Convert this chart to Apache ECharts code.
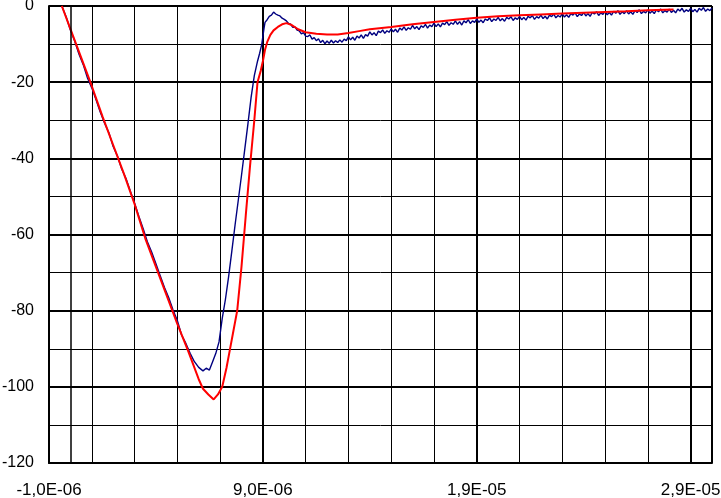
<!DOCTYPE html>
<html>
<head>
<meta charset="utf-8">
<script src="https://cdn.jsdelivr.net/npm/echarts@6/dist/echarts.min.js"></script>
<style>
  html, body { margin: 0; padding: 0; background: #fff; }
  #chart { width: 721px; height: 498px; }
</style>
</head>
<body>
<div id="chart"></div>
<script>
// time in microseconds, signal value
const X_MIN = -1
const X_MAX = 30
const xTickLabels = ['-1,0E-06', '9,0E-06', '1,9E-05', '2,9E-05']

// measured trace (blue)
const measured = [
  [-0.4, 0], [-0.2, -2.8], [0, -6.3], [0.2, -9.2], [0.4, -12.6], [0.6, -15.4], [0.8, -18.9],
  [1.0, -21.5], [1.2, -24.6], [1.4, -27.9], [1.6, -30.8], [1.8, -33.3], [2.0, -36.9], [2.2, -39.4],
  [2.4, -42.8], [2.6, -45.3], [2.8, -48.6], [3.0, -51.7], [3.2, -55.2], [3.4, -58.4], [3.6, -61.9],
  [3.8, -64.6], [4.0, -67.7], [4.2, -70.8], [4.4, -73.9], [4.6, -76.6], [4.8, -79.8], [5.0, -82.6],
  [5.2, -86.4], [5.4, -88.6], [5.6, -91.2], [5.8, -93.4], [6.0, -94.9], [6.2, -95.8], [6.35, -95.1],
  [6.5, -95.6], [6.65, -93.4], [6.8, -91.2], [6.95, -88.2], [7.1, -82.0], [7.25, -77.0], [7.4, -71.0],
  [7.55, -64.3], [7.7, -57.5], [7.85, -51.0], [8.0, -44.5], [8.15, -37.8], [8.3, -31.0], [8.45, -24.0],
  [8.6, -18.3], [8.75, -14.5], [8.85, -12.4], [8.95, -10.0], [9.0, -8.0], [9.05, -6.0], [9.1, -4.3],
  [9.2, -3.6], [9.3, -2.7], [9.4, -2.4], [9.5, -1.6], [9.6, -2.1], [9.7, -2.4], [9.8, -2.6],
  [9.9, -3.2], [10.0, -3.5], [10.1, -3.9], [10.2, -4.6], [10.3, -4.8], [10.4, -5.6], [10.5, -5.5],
  [10.6, -6.3], [10.7, -6.5], [10.8, -7.3], [10.9, -7.0], [11.0, -7.9], [11.1, -8.0], [11.2, -7.6],
  [11.3, -8.7], [11.4, -8.3], [11.5, -9.1], [11.6, -8.6], [11.7, -9.6], [11.8, -9.0], [11.9, -9.9],
  [12.0, -9.2], [12.1, -9.8], [12.2, -9.0], [12.3, -9.7], [12.4, -9.1], [12.5, -9.6], [12.6, -8.9],
  [12.7, -9.5], [12.8, -8.7], [12.9, -9.1],
  [13.0, -8.1], [13.1, -8.9], [13.2, -8.2], [13.3, -9.0], [13.4, -7.9], [13.5, -8.4], [13.6, -7.6], [13.7, -8.5], [13.8, -7.5], [13.9, -7.9],
  [14.0, -6.8], [14.1, -7.6], [14.2, -7.0], [14.3, -7.8], [14.4, -6.6], [14.5, -7.0], [14.6, -6.3], [14.7, -7.2], [14.8, -6.5], [14.9, -6.9],
  [15.0, -6.0], [15.1, -6.8], [15.2, -6.1], [15.3, -6.9], [15.4, -5.8], [15.5, -6.3], [15.6, -5.5], [15.7, -6.4], [15.8, -5.7], [15.9, -6.1],
  [16.0, -5.1], [16.1, -6.0], [16.2, -5.4], [16.3, -6.2], [16.4, -5.2], [16.5, -5.6], [16.6, -4.8], [16.7, -5.8], [16.8, -5.0], [16.9, -5.4],
  [17.0, -4.5], [17.1, -5.4], [17.2, -4.7], [17.3, -5.5], [17.4, -4.5], [17.5, -4.9], [17.6, -4.1], [17.7, -5.1], [17.8, -4.4], [17.9, -4.8],
  [18.0, -3.9], [18.1, -4.8], [18.2, -4.1], [18.3, -5.0], [18.4, -3.9], [18.5, -4.4], [18.6, -3.6], [18.7, -4.6], [18.8, -3.9], [18.9, -4.3],
  [19.0, -3.4], [19.1, -4.3], [19.2, -3.7], [19.3, -4.4], [19.4, -3.4], [19.5, -3.8], [19.6, -3.1], [19.7, -4.1], [19.8, -3.4], [19.9, -3.8],
  [20.0, -3.0], [20.1, -3.9], [20.2, -3.3], [20.3, -4.0], [20.4, -3.0], [20.5, -3.4], [20.6, -2.8], [20.7, -3.8], [20.8, -3.1], [20.9, -3.5],
  [21.0, -2.7], [21.1, -3.6], [21.2, -3.0], [21.3, -3.7], [21.4, -2.7], [21.5, -3.1], [21.6, -2.5], [21.7, -3.5], [21.8, -2.8], [21.9, -3.2],
  [22.0, -2.4], [22.1, -3.3], [22.2, -2.7], [22.3, -3.4], [22.4, -2.4], [22.5, -2.8], [22.6, -2.1], [22.7, -3.1], [22.8, -2.5], [22.9, -2.9],
  [23.0, -2.0], [23.1, -2.9], [23.2, -2.3], [23.3, -3.0], [23.4, -2.0], [23.5, -2.4], [23.6, -1.8], [23.7, -2.8], [23.8, -2.1], [23.9, -2.5],
  [24.0, -1.7], [24.1, -2.6], [24.2, -2.0], [24.3, -2.7], [24.4, -1.7], [24.5, -2.1], [24.6, -1.5], [24.7, -2.5], [24.8, -1.8], [24.9, -2.2],
  [25.0, -1.4], [25.1, -2.3], [25.2, -1.7], [25.3, -2.4], [25.4, -1.4], [25.5, -1.9], [25.6, -1.2], [25.7, -2.2], [25.8, -1.5], [25.9, -2.0],
  [26.0, -1.2], [26.1, -2.1], [26.2, -1.5], [26.3, -2.2], [26.4, -1.2], [26.5, -1.7], [26.6, -1.0], [26.7, -2.0], [26.8, -1.4], [26.9, -1.8],
  [27.0, -1.0], [27.1, -1.9], [27.2, -1.3], [27.3, -2.0], [27.4, -1.0], [27.5, -1.5], [27.6, -0.8], [27.7, -1.8], [27.8, -1.2], [27.9, -1.6],
  [28.0, -0.8], [28.1, -1.7], [28.2, -1.1], [28.3, -1.8], [28.4, -0.8], [28.5, -1.3], [28.6, -0.6], [28.7, -1.6], [28.8, -1.0], [28.9, -1.4],
  [29.0, -0.6], [29.1, -1.5], [29.2, -0.9], [29.3, -1.6], [29.4, -0.6], [29.5, -1.1], [29.6, -0.4], [29.7, -1.4], [29.8, -0.8], [29.9, -1.2],
  [30.0, -0.5]
]

// simulated curve (red)
const simulated = [
  [-0.4, 0], [0.0, -6], [0.5, -13.5], [1.0, -21], [1.5, -29], [2.0, -36.5], [2.5, -44],
  [3.0, -52], [3.5, -61], [4.0, -68.5], [4.5, -76], [5.0, -83.5], [5.5, -90.5], [6.0, -98],
  [6.2, -100.5], [6.45, -102], [6.7, -103.3], [6.9, -102], [7.1, -100], [7.3, -95], [7.45, -90.5],
  [7.6, -86], [7.8, -80], [8.0, -68.5], [8.2, -55], [8.4, -42], [8.6, -30], [8.75, -20],
  [8.9, -17], [9.0, -14.5], [9.1, -11.5], [9.2, -9.5], [9.35, -7.6], [9.5, -6.4], [9.7, -5.5],
  [9.9, -4.8], [10.1, -4.5], [10.35, -5.0], [10.65, -6.1], [11.0, -6.9], [11.5, -7.3], [12.0, -7.5],
  [12.5, -7.5], [13.0, -7.1], [13.5, -6.6], [14.0, -6.1], [15.0, -5.5], [16.0, -4.8], [17.0, -4.2],
  [18.0, -3.6], [19.0, -3.1], [20.0, -2.7], [21.0, -2.4], [22.0, -2.2], [23.0, -2.0], [24.0, -1.8],
  [25.0, -1.6], [26.0, -1.4], [27.0, -1.1], [28.2, -0.9]
]

// axis runs from 0 so the ticks land on -1, 9, 19, 29 us
const shift = pts => pts.map(p => [p[0] - X_MIN, p[1]])

const font = 'Arial, "Liberation Sans", sans-serif'
const myChart = echarts.init(document.getElementById('chart'))
const option = {
  animation: false,
  backgroundColor: '#fff',
  grid: {
    left: 49,
    right: 9,
    top: 6,
    bottom: 35,
    outerBoundsMode: 'none',
    show: true,
    borderColor: '#000',
    borderWidth: 1
  },
  xAxis: [
    {
      type: 'value',
      min: 0,
      max: X_MAX - X_MIN,
      interval: 10,
      axisLine: { show: true, onZero: false, lineStyle: { color: '#000', width: 2 } },
      axisTick: { show: false },
      axisLabel: {
        margin: 19,
        color: '#000',
        fontSize: 17,
        fontFamily: font,
        showMaxLabel: false,
        formatter: v => (v % 10 === 0 ? xTickLabels[v / 10] || '' : '')
      },
      splitLine: { show: true, lineStyle: { color: '#000', width: 2 } }
    },
    {
      // minor vertical grid, every 2 us
      type: 'value',
      min: 0,
      max: X_MAX - X_MIN,
      interval: 2,
      show: true,
      position: 'bottom',
      axisLine: { show: false },
      axisTick: { show: false },
      axisLabel: { show: false },
      splitLine: { show: true, lineStyle: { color: '#000', width: 1 } }
    }
  ],
  yAxis: {
    type: 'value',
    min: -120,
    max: 0,
    interval: 20,
    axisLine: { show: true, lineStyle: { color: '#000', width: 2 } },
    axisTick: { show: false },
    axisLabel: { margin: 15, color: '#000', fontSize: 16, fontFamily: font },
    splitLine: { show: true, lineStyle: { color: '#000', width: 2 } },
    minorTick: { show: false, splitNumber: 2 },
    minorSplitLine: { show: true, lineStyle: { color: '#000', width: 1 } }
  },
  series: [
    {
      name: 'measured',
      type: 'line',
      xAxisIndex: 0,
      showSymbol: false,
      lineStyle: { color: '#000080', width: 1.4 },
      data: shift(measured),
      // vertical axis line at t = 0
      markLine: {
        silent: true,
        symbol: 'none',
        label: { show: false },
        lineStyle: { color: '#000', width: 1.5, type: 'solid' },
        data: [{ xAxis: 0 - X_MIN }]
      }
    },
    {
      name: 'simulated',
      type: 'line',
      xAxisIndex: 0,
      showSymbol: false,
      lineStyle: { color: '#ff0000', width: 2 },
      data: shift(simulated)
    }
  ]
}
myChart.setOption(option)
</script>
</body>
</html>
